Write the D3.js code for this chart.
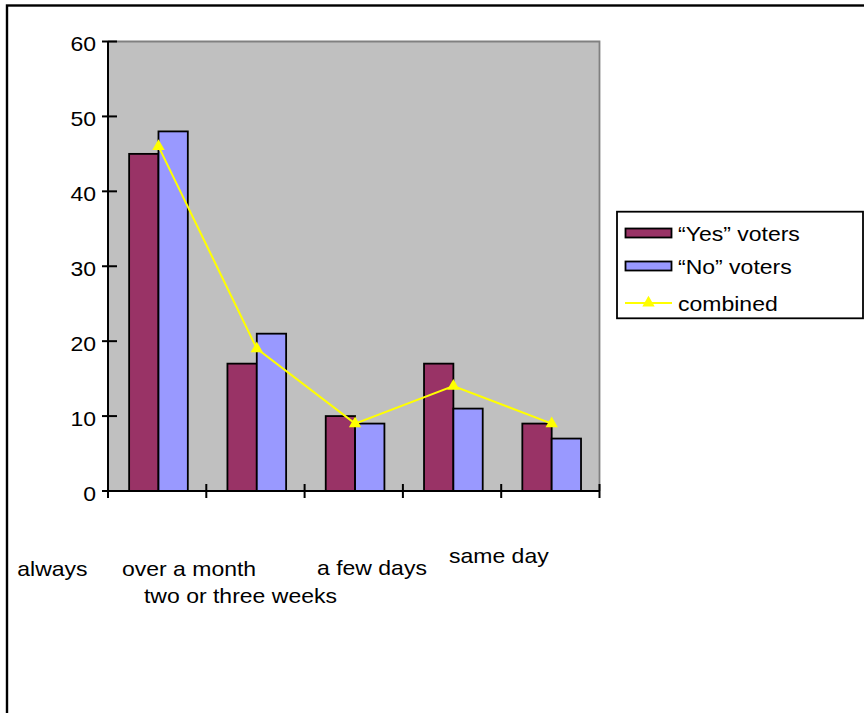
<!DOCTYPE html>
<html>
<head>
<meta charset="utf-8">
<script src="https://cdn.jsdelivr.net/npm/d3@7"></script>
<style>
  html, body { margin: 0; padding: 0; background: #fff; }
  svg { display: block; }
  text { font-family: "Liberation Sans", Arial, sans-serif; fill: #000; }
</style>
</head>
<body>
<svg id="chart" width="864" height="713"></svg>
<script>
// ---- data ----
const categories = ["always", "over a month", "two or three weeks", "a few days", "same day"];
const seriesNames = ["\u201CYes\u201D voters", "\u201CNo\u201D voters", "combined"];
const yesVoters = [45, 17, 10, 17, 9];
const noVoters = [48, 21, 9, 11, 7];
const combined = [46, 19, 9, 14, 9];
const yTicks = [0, 10, 20, 30, 40, 50, 60];

// ---- layout ----
const W = 864, H = 713;
const plot = { left: 108, right: 599.5, top: 41.5, bottom: 491 };
const fontSize = 20;
const stretch = 1.15; // wide lettering
const colors = { yes: "#993366", no: "#9999FF", combined: "#FFFF00", plotBg: "#C0C0C0", plotEdge: "#808080" };
// category label placement: left edge in band widths from the band start, baseline below the axis
const labelShift = [-0.923, -0.858, -1.634, -0.874, -0.531];
const labelDrop = [85, 85, 112, 84, 72];

const svg = d3.select("#chart");

function stretchedText(g, x, y, str, anchor) {
  return g.append("text")
    .attr("transform", `translate(${x},${y}) scale(${stretch},1)`)
    .attr("text-anchor", anchor || "start")
    .style("font-size", fontSize + "px")
    .text(str);
}

// outer chart frame
svg.append("rect")
  .attr("x", 7).attr("y", 5.5)
  .attr("width", 1200).attr("height", 1200)
  .attr("fill", "none").attr("stroke", "#000").attr("stroke-width", 2.4);

// scales
const x = d3.scaleBand().domain(categories).range([plot.left, plot.right]);
const bw = x.bandwidth();
const x1 = d3.scaleBand().domain(["yes", "no"]).range([bw * 0.215, bw * 0.812]);
const y = d3.scaleLinear().domain([0, 60]).range([plot.bottom, plot.top]);

// plot area
svg.append("rect")
  .attr("x", plot.left).attr("y", plot.top)
  .attr("width", plot.right - plot.left).attr("height", plot.bottom - plot.top)
  .attr("fill", colors.plotBg);
svg.append("path")
  .attr("d", `M${plot.left},${plot.top}H${plot.right}V${plot.bottom}`)
  .attr("fill", "none").attr("stroke", colors.plotEdge).attr("stroke-width", 1.8);

// bars
const groups = svg.append("g").selectAll("g")
  .data(categories)
  .join("g")
  .attr("transform", d => `translate(${x(d)},0)`);

groups.append("rect")
  .attr("x", x1("yes"))
  .attr("width", x1.bandwidth())
  .attr("y", (d, i) => y(yesVoters[i]))
  .attr("height", (d, i) => y(0) - y(yesVoters[i]))
  .attr("fill", colors.yes).attr("stroke", "#000").attr("stroke-width", 1.8);

groups.append("rect")
  .attr("x", x1("no"))
  .attr("width", x1.bandwidth())
  .attr("y", (d, i) => y(noVoters[i]))
  .attr("height", (d, i) => y(0) - y(noVoters[i]))
  .attr("fill", colors.no).attr("stroke", "#000").attr("stroke-width", 1.8);

// axes
const yAxis = svg.append("g");
yAxis.append("line")
  .attr("x1", plot.left).attr("x2", plot.left)
  .attr("y1", plot.top).attr("y2", plot.bottom)
  .attr("stroke", "#000").attr("stroke-width", 2);
yAxis.selectAll("line.tick").data(yTicks).join("line")
  .attr("class", "tick")
  .attr("x1", plot.left - 6).attr("x2", plot.left + 9)
  .attr("y1", d => y(d)).attr("y2", d => y(d))
  .attr("stroke", "#000").attr("stroke-width", 2);
yTicks.forEach(t => stretchedText(yAxis, plot.left - 12, y(t) + 9.5, String(t), "end"));

const xAxis = svg.append("g");
xAxis.append("line")
  .attr("x1", plot.left).attr("x2", plot.right)
  .attr("y1", plot.bottom).attr("y2", plot.bottom)
  .attr("stroke", "#000").attr("stroke-width", 2);
const edges = categories.map(c => x(c)).concat([plot.right]);
xAxis.selectAll("line.tick").data(edges).join("line")
  .attr("class", "tick")
  .attr("x1", d => d).attr("x2", d => d)
  .attr("y1", plot.bottom - 7).attr("y2", plot.bottom + 7)
  .attr("stroke", "#000").attr("stroke-width", 2);
categories.forEach((c, i) =>
  stretchedText(xAxis, x(c) + labelShift[i] * bw, plot.bottom + labelDrop[i], c));

// combined line with triangle markers
const lineX = c => x(c) + (x1("no"));
const line = d3.line().x(d => lineX(d.c)).y(d => y(d.v));
const pts = categories.map((c, i) => ({ c, v: combined[i] }));
svg.append("path")
  .datum(pts)
  .attr("d", line)
  .attr("fill", "none").attr("stroke", colors.combined).attr("stroke-width", 2);
const tri = d3.symbol().type(d3.symbolTriangle).size(66);
svg.append("g").selectAll("path")
  .data(pts).join("path")
  .attr("transform", d => `translate(${lineX(d.c)},${y(d.v)})`)
  .attr("d", tri)
  .attr("fill", colors.combined);

// legend
const legend = svg.append("g");
legend.append("rect")
  .attr("x", 617).attr("y", 211.7)
  .attr("width", 246).attr("height", 106.6)
  .attr("fill", "#fff").attr("stroke", "#000").attr("stroke-width", 1.8);
const rowY = [233, 266, 303];
legend.append("rect")
  .attr("x", 625.5).attr("y", rowY[0] - 4.5).attr("width", 46).attr("height", 9)
  .attr("fill", colors.yes).attr("stroke", "#000").attr("stroke-width", 1.8);
legend.append("rect")
  .attr("x", 625.5).attr("y", rowY[1] - 4.5).attr("width", 46).attr("height", 9)
  .attr("fill", colors.no).attr("stroke", "#000").attr("stroke-width", 1.8);
legend.append("line")
  .attr("x1", 625).attr("x2", 672).attr("y1", rowY[2]).attr("y2", rowY[2])
  .attr("stroke", colors.combined).attr("stroke-width", 2);
legend.append("path")
  .attr("transform", `translate(648.5,${rowY[2]})`)
  .attr("d", tri).attr("fill", colors.combined);
seriesNames.forEach((s, i) => stretchedText(legend, 678, rowY[i] + 8, s));
</script>
</body>
</html>
